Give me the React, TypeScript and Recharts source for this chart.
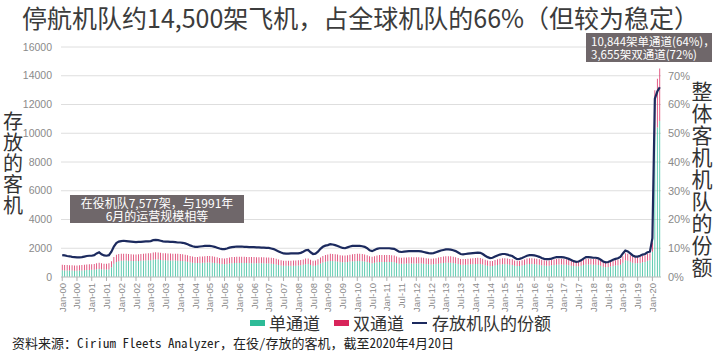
import React from 'react';
import { ComposedChart, Bar, Line, XAxis, YAxis, CartesianGrid } from 'recharts';

const MONTH_NAMES = ['Jan', 'Feb', 'Mar', 'Apr', 'May', 'Jun', 'Jul', 'Aug', 'Sep', 'Oct', 'Nov', 'Dec'];
const YEARS = ['00','01','02','03','04','05','06','07','08','09','10','11','12','13','14','15','16','17','18','19','20'];
const categories: string[] = [];
YEARS.forEach((yy) => {
  MONTH_NAMES.forEach((m, mi) => {
    if (yy === '20' && mi > 3) return;
    categories.push(`${m}-${yy}`);
  });
});

// 单通道 (stored single-aisle aircraft)
const singleAisle = [
  470, 460, 455, 450, 445, 440, 440, 445, 455, 470, 480, 485, // 2000
  500, 510, 540, 560, 540, 520, 515, 530, 680, 920, 1050, 1100, // 2001
  1130, 1140, 1140, 1130, 1120, 1110, 1110, 1120, 1130, 1140, 1150, 1160, // 2002
  1170, 1200, 1220, 1210, 1190, 1170, 1160, 1150, 1150, 1140, 1140, 1130, // 2003
  1120, 1110, 1090, 1060, 1020, 990, 970, 970, 980, 990, 1000, 1010, // 2004
  1010, 1000, 980, 950, 920, 900, 890, 910, 940, 960, 970, 980, // 2005
  980, 980, 975, 970, 965, 965, 960, 955, 955, 950, 950, 945, // 2006
  940, 925, 905, 870, 830, 800, 780, 775, 775, 780, 785, 790, // 2007
  800, 820, 850, 890, 900, 830, 780, 790, 850, 940, 1010, 1060, // 2008
  1090, 1120, 1115, 1100, 1080, 1050, 1030, 1030, 1050, 1070, 1090, 1100, // 2009
  1110, 1110, 1100, 1080, 1040, 990, 960, 990, 1030, 1050, 1050, 1050, // 2010
  1050, 1050, 1040, 1030, 980, 930, 920, 930, 935, 940, 940, 940, // 2011
  940, 940, 935, 920, 900, 880, 870, 880, 900, 930, 960, 980, // 2012
  1000, 1000, 990, 970, 940, 900, 860, 850, 860, 870, 880, 890, // 2013
  900, 910, 905, 870, 820, 780, 750, 760, 800, 840, 870, 890, // 2014
  890, 880, 860, 840, 790, 760, 770, 800, 840, 880, 900, 900, // 2015
  890, 870, 850, 820, 800, 790, 790, 810, 840, 860, 870, 870, // 2016
  860, 845, 820, 790, 760, 740, 750, 780, 830, 870, 870, 865, // 2017
  860, 855, 840, 790, 720, 680, 690, 730, 770, 800, 820, 860, // 2018
  1000, 1160, 1130, 1060, 990, 950, 950, 980, 1020, 1050, 1130, 1160, // 2019
  1750, 9800, 10400, 10844, // 2020
];

// 双通道 (stored twin-aisle aircraft)
const twinAisle = [
  380, 380, 375, 370, 365, 360, 360, 365, 375, 380, 390, 395, // 2000
  390, 400, 420, 440, 420, 410, 405, 420, 420, 480, 500, 500, // 2001
  480, 480, 470, 470, 470, 460, 460, 470, 470, 480, 480, 490, // 2002
  490, 500, 510, 500, 500, 490, 490, 490, 480, 480, 480, 480, // 2003
  480, 470, 460, 450, 440, 430, 430, 430, 440, 440, 450, 450, // 2004
  450, 440, 430, 420, 410, 400, 400, 410, 420, 430, 430, 430, // 2005
  430, 430, 430, 430, 425, 425, 425, 425, 420, 420, 420, 420, // 2006
  420, 415, 410, 395, 380, 365, 355, 350, 350, 355, 355, 360, // 2007
  360, 365, 375, 390, 395, 370, 350, 355, 380, 420, 450, 470, // 2008
  480, 490, 490, 485, 480, 470, 460, 460, 470, 480, 490, 500, // 2009
  500, 500, 500, 490, 480, 460, 450, 460, 470, 480, 480, 480, // 2010
  480, 480, 475, 470, 450, 430, 425, 425, 430, 430, 430, 430, // 2011
  430, 430, 425, 420, 410, 400, 395, 400, 410, 420, 430, 440, // 2012
  450, 450, 445, 440, 430, 415, 400, 395, 400, 405, 410, 415, // 2013
  420, 425, 420, 405, 385, 365, 355, 360, 375, 390, 400, 410, // 2014
  410, 405, 395, 390, 365, 350, 355, 370, 385, 400, 410, 410, // 2015
  405, 400, 390, 380, 370, 365, 365, 370, 385, 395, 400, 400, // 2016
  395, 390, 380, 365, 350, 340, 345, 360, 380, 400, 400, 395, // 2017
  390, 390, 380, 360, 330, 310, 315, 335, 355, 365, 375, 390, // 2018
  440, 500, 490, 460, 430, 420, 420, 430, 445, 460, 490, 500, // 2019
  650, 3200, 3400, 3655, // 2020
];

// 存放机队的份额 (% of total passenger fleet stored)
const storedShare = [
  7.6, 7.5, 7.3, 7.2, 7.0, 6.9, 6.8, 6.8, 6.9, 7.1, 7.3, 7.4, // 2000
  7.4, 7.6, 8.2, 8.6, 7.9, 7.5, 7.4, 7.6, 8.8, 10.6, 11.8, 12.3, // 2001
  12.5, 12.6, 12.5, 12.4, 12.3, 12.2, 12.1, 12.2, 12.2, 12.3, 12.4, 12.4, // 2002
  12.5, 12.8, 12.9, 12.8, 12.6, 12.4, 12.3, 12.3, 12.2, 12.2, 12.1, 12.0, // 2003
  12.0, 11.9, 11.7, 11.4, 11.0, 10.7, 10.5, 10.5, 10.6, 10.7, 10.8, 10.8, // 2004
  10.8, 10.7, 10.5, 10.2, 9.9, 9.7, 9.7, 9.9, 10.2, 10.4, 10.5, 10.6, // 2005
  10.6, 10.6, 10.5, 10.5, 10.4, 10.4, 10.4, 10.3, 10.3, 10.2, 10.2, 10.1, // 2006
  10.1, 9.9, 9.7, 9.3, 8.9, 8.5, 8.2, 8.1, 8.1, 8.2, 8.2, 8.2, // 2007
  8.2, 8.4, 8.8, 9.3, 9.4, 8.6, 8.0, 8.1, 8.8, 9.8, 10.5, 10.9, // 2008
  11.1, 11.4, 11.3, 11.1, 10.8, 10.4, 10.1, 10.0, 10.3, 10.6, 10.8, 10.8, // 2009
  10.8, 10.8, 10.7, 10.5, 10.0, 9.3, 9.0, 9.4, 9.8, 10.0, 10.0, 10.0, // 2010
  10.0, 10.0, 9.9, 9.8, 9.3, 8.8, 8.7, 8.8, 8.9, 9.0, 9.0, 9.0, // 2011
  9.0, 9.0, 8.9, 8.7, 8.5, 8.3, 8.2, 8.3, 8.6, 8.9, 9.2, 9.4, // 2012
  9.6, 9.6, 9.5, 9.3, 9.0, 8.5, 8.0, 7.9, 8.0, 8.1, 8.2, 8.3, // 2013
  8.4, 8.5, 8.4, 8.0, 7.4, 6.9, 6.6, 6.7, 7.1, 7.5, 7.8, 8.0, // 2014
  8.0, 7.8, 7.5, 7.3, 6.7, 6.2, 6.3, 6.6, 7.0, 7.4, 7.6, 7.6, // 2015
  7.5, 7.3, 7.0, 6.6, 6.3, 6.2, 6.2, 6.4, 6.7, 6.9, 6.9, 6.9, // 2016
  6.8, 6.6, 6.3, 5.9, 5.5, 5.3, 5.4, 5.8, 6.4, 6.9, 6.9, 6.8, // 2017
  6.7, 6.7, 6.5, 6.0, 5.4, 5.1, 5.2, 5.6, 6.0, 6.3, 6.5, 7.0, // 2018
  8.2, 9.2, 8.9, 8.2, 7.5, 7.1, 7.1, 7.4, 7.8, 8.0, 8.6, 8.8, // 2019
  13.5, 62, 64.5, 66, // 2020
];

const leftTicks = [0, 2000, 4000, 6000, 8000, 10000, 12000, 14000, 16000];
const rightTicks = [0, 10, 20, 30, 40, 50, 60, 70];

const LEFT_TITLE = '存放的客机';
const RIGHT_TITLE = '整体客机机队的份额';

const data = categories.map((month, i) => ({
  month,
  single: singleAisle[i],
  twin: twinAisle[i],
  share: storedShare[i],
}));

const TEAL = '#2dbb97';
const RED = '#d8245a';
const NAVY = '#1c2a5e';
const CJK = "'Noto Sans CJK SC', 'Noto Sans', sans-serif";
const TICKFONT = "'Liberation Sans', Arial, sans-serif";

const XTick = (props: any) => {
  const { x, y, payload } = props;
  return (
    <g transform={`translate(${x},${y})`}>
      <text transform="rotate(-90)" textAnchor="end" x={0} dy={3.5} fontSize={9.5} fill="#8a8a8a" fontFamily={TICKFONT}>
        {payload.value}
      </text>
    </g>
  );
};

const boxStyle: React.CSSProperties = {
  position: 'absolute',
  background: '#6f676a',
  color: '#ffffff',
  fontFamily: CJK,
  fontSize: 12,
  lineHeight: '13px',
  whiteSpace: 'pre',
  boxSizing: 'border-box',
};

const VerticalTitle = ({ text, left, top, size, step, width }: { text: string; left: number; top: number; size: number; step: number; width: number }) => (
  <div style={{ position: 'absolute', left, top, width, fontFamily: CJK, fontSize: size, color: '#333', lineHeight: `${step}px`, textAlign: 'center', whiteSpace: 'pre' }}>
    {text.split('').join('\n')}
  </div>
);

export default function App() {
  return (
    <div style={{ position: 'absolute', left: 0, top: 0, width: 721, height: 354, background: '#fff', overflow: 'hidden' }}>
      <ComposedChart
        width={721}
        height={354}
        data={data}
        margin={{ top: 47, right: 20, bottom: 37, left: 1 }}
        barCategoryGap="35%"
      >
        <CartesianGrid vertical={false} stroke="#dedede" yAxisId="left" />
        <XAxis
          dataKey="month"
          interval={5}
          height={40}
          tick={<XTick />}
          tickSize={4}
          tickMargin={2}
          axisLine={{ stroke: '#c8c8c8' }}
          tickLine={{ stroke: '#b0b0b0' }}
        />
        <YAxis
          yAxisId="left"
          orientation="left"
          width={60}
          domain={[0, 16000]}
          ticks={leftTicks}
          tickLine={false}
          axisLine={false}
          tickSize={0}
          tickMargin={9}
          tick={{ fontSize: 10.5, fill: '#8a8a8a', fontFamily: TICKFONT }}
        />
        <YAxis
          yAxisId="right"
          orientation="right"
          width={40}
          domain={[0, 80]}
          ticks={rightTicks}
          tickFormatter={(v: number) => `${v}%`}
          tickLine={false}
          axisLine={false}
          tickSize={0}
          tickMargin={7}
          tick={{ fontSize: 11, fill: '#8a8a8a', fontFamily: TICKFONT }}
        />
        <Bar yAxisId="left" dataKey="single" stackId="a" fill={TEAL} isAnimationActive={false} />
        <Bar yAxisId="left" dataKey="twin" stackId="a" fill={RED} isAnimationActive={false} />
        <Line
          yAxisId="right"
          dataKey="share"
          type="linear"
          stroke={NAVY}
          strokeWidth={2.2}
          dot={false}
          activeDot={false}
          isAnimationActive={false}
        />
      </ComposedChart>

      <div style={{ position: 'absolute', left: 22, top: 2, fontFamily: CJK, fontSize: 25, color: '#3c3c3c', whiteSpace: 'nowrap', lineHeight: '31px' }}>
        停航机队约14,500架飞机，占全球机队的66%（但较为稳定）
      </div>

      <VerticalTitle text={LEFT_TITLE} left={3} top={110} size={20} step={21} width={20} />
      <VerticalTitle text={RIGHT_TITLE} left={691} top={79} size={21} step={22} width={22} />

      <div style={{ ...boxStyle, left: 70, top: 195, width: 174, height: 28, textAlign: 'center', paddingTop: 1 }}>
        {'在役机队7,577架，与1991年\n6月的运营规模相等'}
      </div>
      <div style={{ ...boxStyle, left: 586, top: 33, width: 126, height: 29, paddingLeft: 5, paddingTop: 2, fontSize: 11.5 }}>
        {'10,844架单通道(64%)，\n3,655架双通道(72%)'}
      </div>

      <div style={{ position: 'absolute', left: 250, top: 312, display: 'flex', alignItems: 'center', fontFamily: CJK, fontSize: 17, color: '#333', whiteSpace: 'nowrap', lineHeight: '22px' }}>
        <span style={{ display: 'inline-block', width: 15, height: 6, background: TEAL, marginRight: 4 }} />
        <span style={{ marginRight: 14 }}>单通道</span>
        <span style={{ display: 'inline-block', width: 15, height: 6, background: RED, marginRight: 4 }} />
        <span style={{ marginRight: 8 }}>双通道</span>
        <span style={{ display: 'inline-block', width: 15, height: 2.5, background: NAVY, marginRight: 5 }} />
        <span>存放机队的份额</span>
      </div>

      <div style={{ position: 'absolute', left: 12, top: 334, fontFamily: "'Noto Sans Mono CJK SC', 'Liberation Mono', 'Noto Sans CJK SC', monospace", fontSize: 13, color: '#222', whiteSpace: 'nowrap', lineHeight: '18px' }}>
        资料来源：Cirium Fleets Analyzer，在役/存放的客机，截至2020年4月20日
      </div>
    </div>
  );
}
